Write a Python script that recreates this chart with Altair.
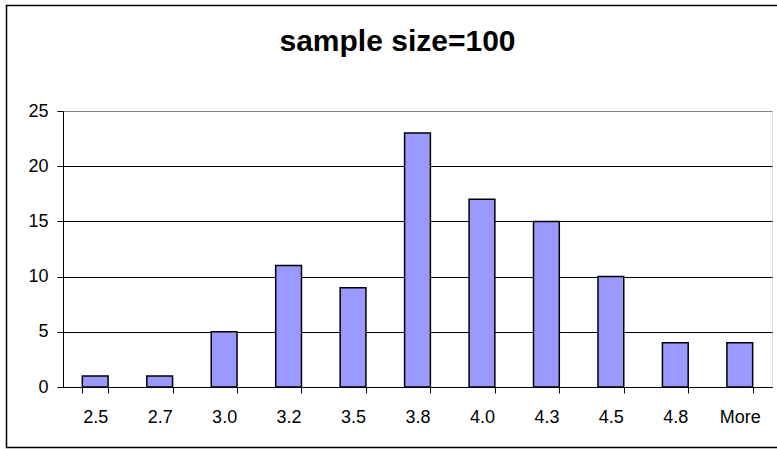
import altair as alt
import pandas as pd

# Histogram bins (upper bounds) and the count in each bin
bins = ["2.5", "2.7", "3.0", "3.2", "3.5", "3.8", "4.0", "4.3", "4.5", "4.8", "More"]
counts = [1, 1, 5, 11, 9, 23, 17, 15, 10, 4, 4]
y_ticks = [0, 5, 10, 15, 20, 25]

df = pd.DataFrame({"bin": bins, "count": counts})

FONT = "Liberation Sans"

bars = alt.Chart(df).mark_bar(
    fill="#9999FF", stroke="black", strokeWidth=1.5
).encode(
    x=alt.X(
        "bin:N",
        sort=bins,
        title=None,
        scale=alt.Scale(paddingInner=0.6, paddingOuter=0.3),
        axis=alt.Axis(
            labelAngle=0,
            tickBand="extent",
            tickSize=6,
            tickColor="black",
            domainColor="black",
            labelPadding=15,
            labelFontSize=18,
            labelFont=FONT,
            labelColor="black",
            grid=False,
        ),
    ),
    y=alt.Y(
        "count:Q",
        title=None,
        scale=alt.Scale(domain=[0, 25], nice=False),
        axis=alt.Axis(
            values=y_ticks,
            tickSize=6,
            tickColor="black",
            domainColor="black",
            labelPadding=9,
            labelFontSize=18,
            labelFont=FONT,
            labelColor="black",
            grid=True,
            gridColor={
                "condition": {"test": "datum.value == 25", "value": "#808080"},
                "value": "black",
            },
            gridWidth=1,
        ),
    ),
)

# Frame around the whole chart area
frame = alt.Chart(pd.DataFrame({"k": [0]})).mark_rect(
    fill=None, stroke="black", strokeWidth=1.5
).encode(
    x=alt.value(-56.5),
    x2=alt.value(740),
    y=alt.value(-105.5),
    y2=alt.value(336.5),
)

chart = alt.layer(frame, bars).properties(
    width=709,
    height=276,
    title=alt.TitleParams(
        "sample size=100",
        font=FONT,
        fontSize=30,
        fontWeight="bold",
        color="black",
        anchor="middle",
        baseline="alphabetic",
        offset=-76.5,
        dx=-20,
    ),
    autosize=alt.AutoSizeParams(type="none"),
    padding={"left": 63, "top": 111, "right": 5, "bottom": 62},
).configure_view(
    stroke="#808080", strokeWidth=1.5
).configure(background="white")

chart.save("out.html", embed_options={"renderer": "svg", "actions": False})
